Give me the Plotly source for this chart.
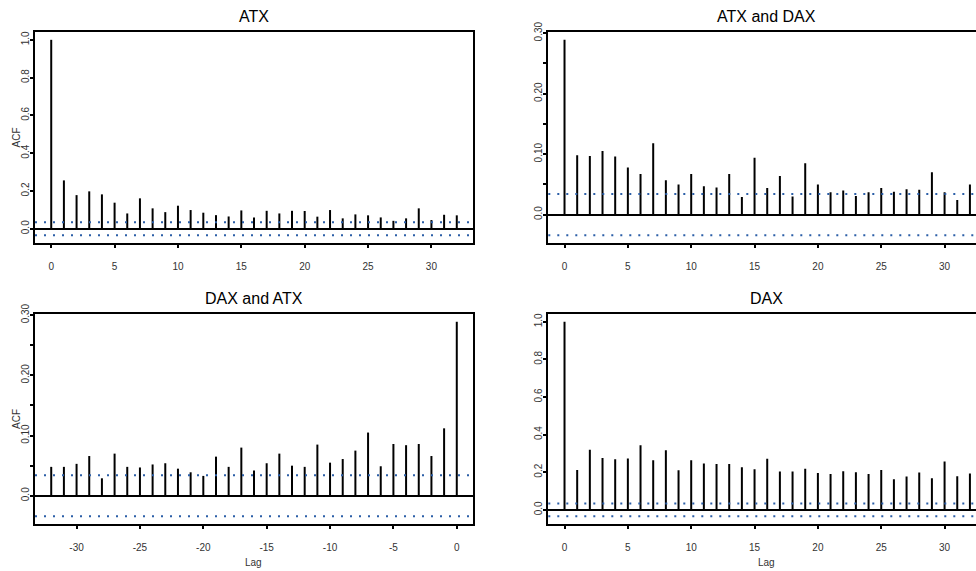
import plotly.graph_objects as go

# Autocorrelations (ACF) and cross-correlations of daily ATX / DAX returns
lags_pos = list(range(0, 33))
lags_neg = list(range(-32, 1))

acf_atx = [1.000, 0.256, 0.178, 0.198, 0.182, 0.138, 0.081, 0.161, 0.108, 0.088,
           0.122, 0.099, 0.085, 0.072, 0.065, 0.097, 0.060, 0.095, 0.081, 0.095,
           0.094, 0.064, 0.099, 0.055, 0.076, 0.071, 0.060, 0.042, 0.055, 0.108,
           0.046, 0.074, 0.071]

ccf_atx_dax = [0.289, 0.098, 0.097, 0.105, 0.096, 0.078, 0.067, 0.118, 0.057, 0.050,
               0.067, 0.047, 0.045, 0.067, 0.029, 0.094, 0.044, 0.064, 0.030, 0.085,
               0.050, 0.037, 0.040, 0.031, 0.037, 0.044, 0.038, 0.042, 0.041, 0.070,
               0.037, 0.024, 0.050]

# lags -32 ... 0
ccf_dax_atx = [0.048, 0.048, 0.053, 0.066, 0.029, 0.070, 0.048, 0.047, 0.052, 0.054,
               0.045, 0.039, 0.033, 0.065, 0.048, 0.080, 0.042, 0.054, 0.070, 0.050,
               0.048, 0.085, 0.055, 0.061, 0.075, 0.105, 0.049, 0.086, 0.084, 0.086,
               0.066, 0.112, 0.289]

acf_dax = [1.000, 0.212, 0.320, 0.276, 0.269, 0.273, 0.343, 0.264, 0.317, 0.211,
           0.264, 0.246, 0.244, 0.244, 0.227, 0.216, 0.271, 0.204, 0.204, 0.219,
           0.196, 0.191, 0.205, 0.200, 0.191, 0.212, 0.163, 0.177, 0.198, 0.168,
           0.257, 0.179, 0.193]

conf_limit = 0.034

W, H = 976, 571
FONT = "Liberation Sans, Arial, Helvetica, sans-serif"
CI_COLOR = "#2b5ea7"
TXT = "#333333"


def px_x(p):
    return p / W


def px_y(p):
    return 1 - p / H


panels = [
    dict(title="ATX", lags=lags_pos, vals=acf_atx, xr=[-1.28, 33.28], xd=(35, 473), yd=(32, 243),
         yr=[-0.0754, 1.0414], ytv=[0, 0.2, 0.4, 0.6, 0.8, 1.0],
         ytt=["0.0", "0.2", "0.4", "0.6", "0.8", "1.0"], acf=True, lag=False, full=True,
         xtv=[0, 5, 10, 15, 20, 25, 30]),
    dict(title="ATX and DAX", lags=lags_pos, vals=ccf_atx_dax, xr=[-1.28, 32.48], xd=(548.3, 976),
         yd=(32, 243), yr=[-0.0469, 0.3019], ytv=[0, 0.05, 0.10, 0.15, 0.20, 0.25, 0.30],
         ytt=["0.0", "", "0.10", "", "0.20", "", "0.30"], acf=False, lag=False, full=False,
         xtv=[0, 5, 10, 15, 20, 25, 30]),
    dict(title="DAX and ATX", lags=lags_neg, vals=ccf_dax_atx, xr=[-33.28, 1.28], xd=(35, 473),
         yd=(314, 524), yr=[-0.0469, 0.3019], ytv=[0, 0.05, 0.10, 0.15, 0.20, 0.25, 0.30],
         ytt=["0.0", "", "0.10", "", "0.20", "", "0.30"], acf=True, lag=True, full=True,
         xtv=[-30, -25, -20, -15, -10, -5, 0]),
    dict(title="DAX", lags=lags_pos, vals=acf_dax, xr=[-1.28, 32.48], xd=(548.3, 976),
         yd=(314, 524), yr=[-0.0754, 1.0414], ytv=[0, 0.2, 0.4, 0.6, 0.8, 1.0],
         ytt=["0.0", "0.2", "0.4", "0.6", "0.8", "1.0"], acf=False, lag=True, full=False,
         xtv=[0, 5, 10, 15, 20, 25, 30]),
]

fig = go.Figure()
layout = dict(
    template="none",
    width=W, height=H, margin=dict(l=0, r=0, t=0, b=0, pad=0),
    paper_bgcolor="white", plot_bgcolor="white", showlegend=False,
    font=dict(family=FONT, color=TXT),
)
annotations = []
shapes = []

for i, p in enumerate(panels, start=1):
    xa = "x" if i == 1 else f"x{i}"
    ya = "y" if i == 1 else f"y{i}"
    xs, ys = [], []
    for lag, v in zip(p["lags"], p["vals"]):
        xs += [lag, lag, None]
        ys += [0, v, None]
    fig.add_trace(go.Scatter(x=xs, y=ys, mode="lines", xaxis=xa, yaxis=ya,
                             line=dict(color="black", width=2), hoverinfo="skip"))

    layout["xaxis" if i == 1 else f"xaxis{i}"] = dict(
        domain=[px_x(p["xd"][0]), px_x(p["xd"][1])], range=p["xr"], anchor=ya,
        automargin=False, showgrid=False, zeroline=False, showline=True,
        linecolor="black", linewidth=2, mirror=True,
        ticks="outside", ticklen=3, tickwidth=1.5, tickcolor="black",
        tickvals=p["xtv"], ticktext=[str(v) for v in p["xtv"]],
        tickfont=dict(size=10, family=FONT, color=TXT), ticklabelstandoff=10,
    )
    layout["yaxis" if i == 1 else f"yaxis{i}"] = dict(
        domain=[px_y(p["yd"][1]), px_y(p["yd"][0])], range=p["yr"], anchor=xa,
        automargin=False, showgrid=False, zeroline=True, zerolinecolor="black",
        zerolinewidth=1.5, showline=True, linecolor="black", linewidth=2, mirror=p["full"],
        ticks="outside", ticklen=3, tickwidth=1.5, tickcolor="black",
        tickvals=p["ytv"], ticktext=p["ytt"], tickangle=-90,
        tickfont=dict(size=10, family=FONT, color=TXT), ticklabelstandoff=-3,
    )

    # confidence bounds
    for c in (conf_limit, -conf_limit):
        shapes.append(dict(type="line", xref=f"{xa} domain", yref=ya, x0=0, x1=1, y0=c, y1=c,
                           line=dict(color=CI_COLOR, width=2, dash="2px,7px"), layer="above"))

    cx = (p["xd"][0] + p["xd"][1]) / 2 if p["full"] else (p["xd"][0] + 985) / 2
    annotations.append(dict(text=p["title"], x=px_x(cx), y=px_y(p["yd"][0] - 16),
                            xref="paper", yref="paper", showarrow=False,
                            xanchor="center", yanchor="middle",
                            font=dict(size=16, family=FONT, color="black")))
    if p["acf"]:
        annotations.append(dict(text="ACF", x=px_x(16), y=px_y((p["yd"][0] + p["yd"][1]) / 2),
                                xref="paper", yref="paper", showarrow=False, textangle=-90,
                                xanchor="center", yanchor="middle",
                                font=dict(size=10, family=FONT, color=TXT)))
    if p["lag"]:
        annotations.append(dict(text="Lag", x=px_x(cx), y=px_y(562),
                                xref="paper", yref="paper", showarrow=False,
                                xanchor="center", yanchor="middle",
                                font=dict(size=10, family=FONT, color=TXT)))

layout["annotations"] = annotations
layout["shapes"] = shapes
fig.update_layout(**layout)
fig.write_html("out.html")
